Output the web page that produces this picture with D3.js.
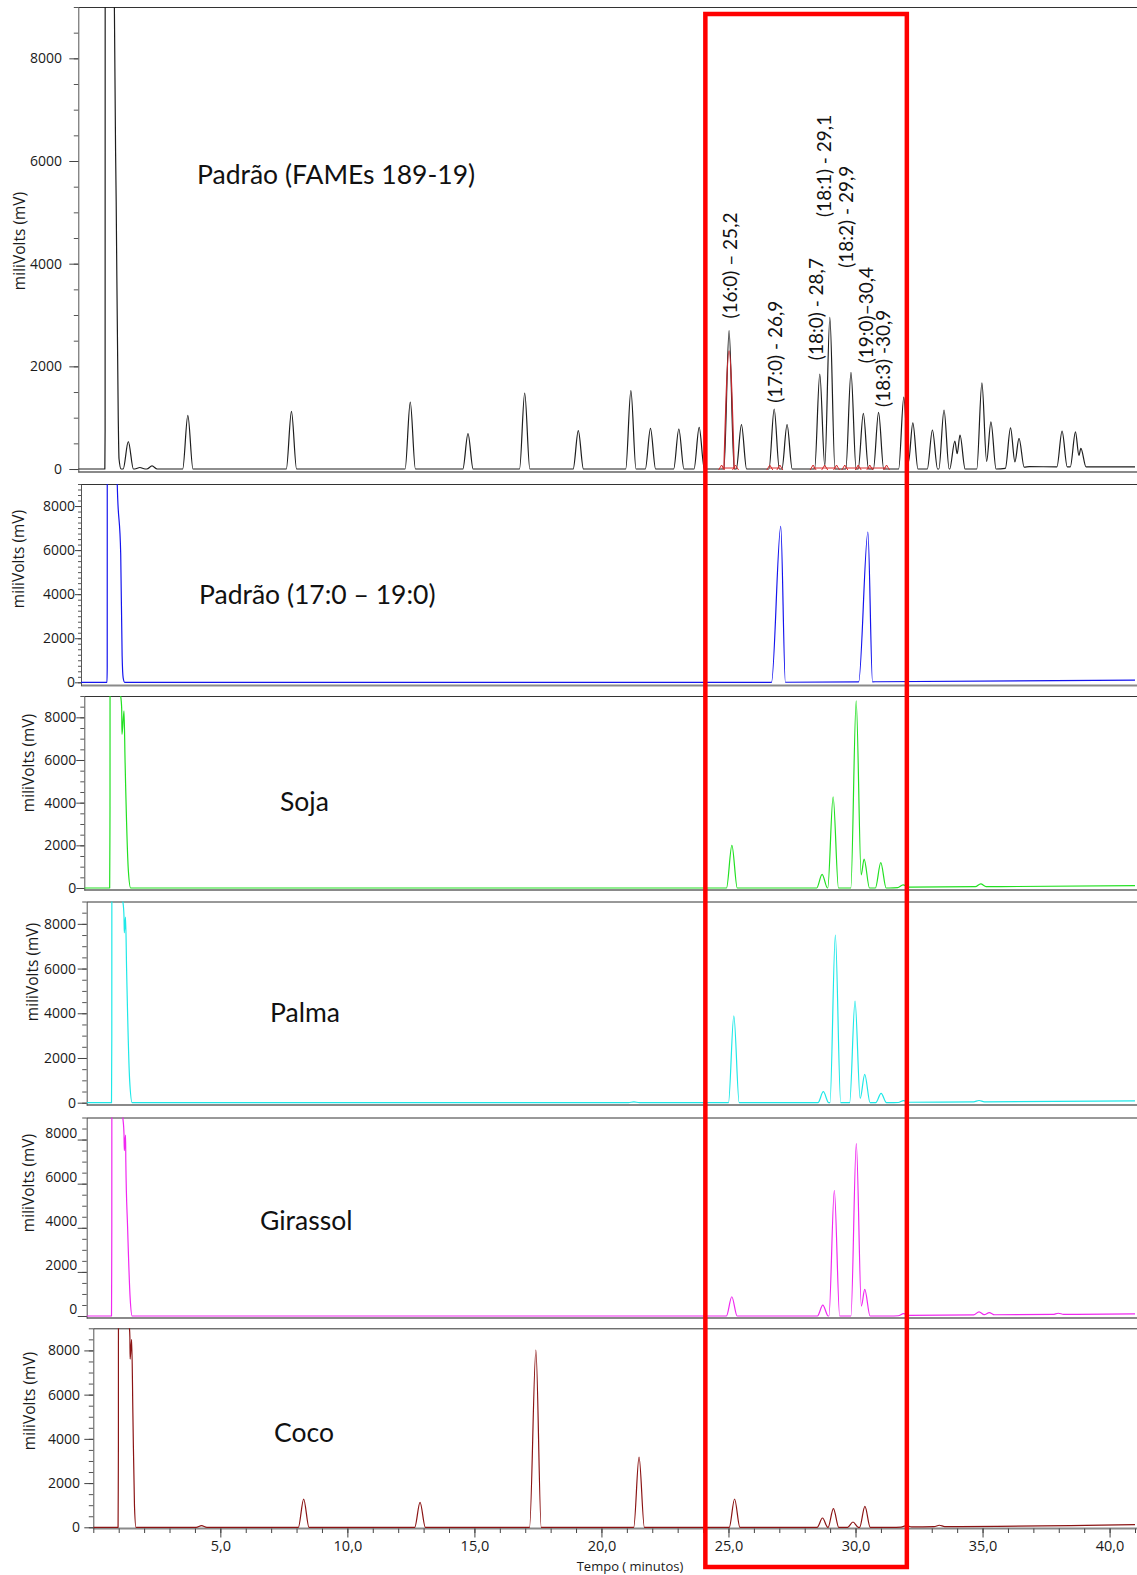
<!DOCTYPE html>
<html>
<head>
<meta charset="utf-8">
<script src="https://cdn.jsdelivr.net/npm/d3@7"></script>
<style>
  body { margin: 0; background: #fff; }
  svg { display: block; }
</style>
</head>
<body>
<svg id="chart" width="1137" height="1575"></svg>
<script>
// ---- values (time in minutes, signal in mV) ----
const timeDomain = [0, 41];
const signalTop = 9000;
const yTickValues = [0, 2000, 4000, 6000, 8000];
const xTickValues = [5, 10, 15, 20, 25, 30, 35, 40];
const xTickLabels = ["5,0", "10,0", "15,0", "20,0", "25,0", "30,0", "35,0", "40,0"];

const panelNames = [
  "Padrão (FAMEs 189-19)",
  "Padrão (17:0 – 19:0)",
  "Soja",
  "Palma",
  "Girassol",
  "Coco",
];

// solvent front, point by point [min, mV] (goes off scale)
const famesSolvent = [[0, 0], [1.03, 0], [1.04, 750], [1.05, 30000], [1.38, 14000], [1.4, 9000], [1.47, 5200], [1.55, 1000], [1.58, 200], [1.66, 0]];
const std1719Solvent = [[0, 0], [1.01, 0], [1.02, 700], [1.025, 30000], [1.39, 14000], [1.41, 9000], [1.545, 5800], [1.6, 1200], [1.64, 200], [1.7, 0]];
const sojaSolvent = [[0, 0], [0.99, 0], [1.0, 2600], [1.003, 3800], [1.01, 30000], [1.37, 14000], [1.39, 9500], [1.459, 8400], [1.47, 7200], [1.55, 8300], [1.59, 6000], [1.72, 800], [1.81, 0]];
const palmaSolvent = [[0, 0], [0.97, 0], [0.978, 2000], [0.982, 3000], [0.99, 30000], [1.37, 14000], [1.39, 9500], [1.46, 8300], [1.47, 7600], [1.52, 8300], [1.56, 6000], [1.68, 1000], [1.78, 0]];
const girassolSolvent = [[0, 0], [0.97, 0], [0.978, 2400], [0.982, 4200], [0.99, 30000], [1.37, 14000], [1.39, 9500], [1.46, 8200], [1.47, 7500], [1.52, 8200], [1.53, 7000], [1.6, 4000], [1.7, 800], [1.78, 0]];
const cocoSolvent = [[0, 0], [0.975, 0], [0.984, 2300], [0.988, 3800], [0.995, 30000], [1.38, 14000], [1.4, 9500], [1.44, 8600], [1.45, 7600], [1.51, 8500], [1.56, 5000], [1.62, 1000], [1.68, 0]];

// peaks [retention time, height, left half width?, right half width?]
const famesPeaks = [
  [1.94, 533], [2.39, 30], [2.86, 60], [4.25, 1045], [8.27, 1123], [12.88, 1305],
  [15.12, 688], [17.32, 1481], [19.4, 747], [21.44, 1526], [22.2, 792], [23.3, 780],
  [24.09, 810], [25.25, 2695], [25.73, 863], [27.0, 1169], [27.5, 863], [28.77, 1851],
  [29.16, 2954], [29.98, 1882], [30.46, 1083], [31.05, 1103], [32.03, 1400], [32.38, 900],
  [33.14, 760], [33.59, 1150], [34.01, 545], [34.21, 660], [35.06, 1680], [35.41, 920],
  [36.17, 780], [36.5, 565], [38.17, 693], [38.69, 682], [38.9, 360],
];
const std1719Peaks = [[27.22, 7073, 0.36, 0.18], [30.61, 6800, 0.36, 0.18]];
const sojaPeaks = [[25.27, 2000], [28.79, 640], [29.22, 4277], [30.12, 8773], [30.43, 1358], [31.08, 1185], [31.95, 120], [34.98, 130]];
const palmaPeaks = [[21.4, 40], [25.31, 3889], [28.81, 492], [29.28, 7497], [30.05, 4546], [30.43, 1270], [31.07, 420], [31.95, 80], [34.9, 60]];
const girassolPeaks = [[25.23, 873], [28.79, 498], [29.24, 5701], [30.1, 7814], [30.43, 1206], [31.95, 90], [34.9, 140], [35.3, 100], [38.0, 50]];
const cocoPeaks = [[4.26, 80], [8.28, 1277], [12.86, 1128], [17.42, 8010, 0.25, 0.21], [21.48, 3172], [25.24, 1280], [28.7, 420], [29.13, 843], [29.9, 240], [30.37, 950], [32.0, 60], [33.3, 60]];

// baseline drift [min, mV]
const famesDrift = [[0, 0], [35.6, 0], [36.9, 45], [41, 40]];
const std1719Drift = [[0, 0], [27, 0], [31, 25], [41, 100]];
const sojaDrift = [[0, 0], [31.4, 0], [32.2, 40], [41, 110]];
const palmaDrift = [[0, 0], [31.4, 0], [32.2, 20], [41, 80]];
const girassolDrift = [[0, 0], [31.4, 0], [32.2, 30], [41, 100]];
const cocoDrift = [[0, 0], [31.4, 0], [32.2, 20], [41, 120]];

// identified peaks in the FAME standard
const peakLabels = ["(16:0) – 25,2", "(17:0) - 26,9", "(18:0) - 28,7", "(18:1) - 29,1", "(18:2) - 29,9", "(19:0)–30,4", "(18:3) -30,9"];
const peakLabelTimes = [25.28, 27.06, 28.65, 28.96, 29.81, 30.58, 31.23];
const peakLabelLevels = [2930, 1290, 2120, 4910, 3920, 2060, 1210];
const famesHighlight = [25.25, 2300];
const integrationMarks = [[24.96, 25.5], [26.83, 27.22], [28.51, 28.96, 29.42], [29.74, 30.26, 30.71, 31.36]];

// window boxed in red on the figure
const highlightWindow = [24.09, 32.02];

// ---- layout / styles ----
const plotRight = 1135;
const W = 1137;
const layout = [
  { left: 78.3, top: 7, bottom: 472, yMin: -58, minor: 500, major: 9, pad: 7.3, color: "#1e1e1e", hw: 0.2, yTitle: [20, 241], name: [197, 175] },
  { left: 81, top: 484, bottom: 685.5, yMin: -145, minor: 250, major: 6, pad: 0, color: "#1414ee", hw: 0.2, yTitle: [18.5, 559], name: [199, 595] },
  { left: 84.3, top: 696, bottom: 890, yMin: -94, minor: 500, major: 8, pad: 0, color: "#22e022", hw: 0.21, yTitle: [29, 763], name: [280, 802] },
  { left: 86.7, top: 901.5, bottom: 1105, yMin: -103, minor: 500, major: 9, pad: 1.7, color: "#1ee8e8", hw: 0.21, yTitle: [32.7, 972], name: [270, 1013] },
  { left: 86.7, top: 1117.5, bottom: 1318, yMin: -90, minor: 500, major: 9, pad: 0.4, color: "#f028f0", hw: 0.21, yTitle: [29, 1183], name: [260, 1221], raised: true },
  { left: 93.3, top: 1328.3, bottom: 1528.5, yMin: -54, minor: 500, major: 9, pad: 4.3, color: "#8b1414", hw: 0.21, yTitle: [30, 1401], name: [274, 1433] },
];

const series = [
  { solvent: famesSolvent, peaks: famesPeaks, drift: famesDrift },
  { solvent: std1719Solvent, peaks: std1719Peaks, drift: std1719Drift },
  { solvent: sojaSolvent, peaks: sojaPeaks, drift: sojaDrift },
  { solvent: palmaSolvent, peaks: palmaPeaks, drift: palmaDrift },
  { solvent: girassolSolvent, peaks: girassolPeaks, drift: girassolDrift },
  { solvent: cocoSolvent, peaks: cocoPeaks, drift: cocoDrift },
];

const svg = d3.select("#chart");

// turn a peak table into the vertices of the trace
function buildTrace(solvent, peaks, drift, hw) {
  const baseAt = d3
    .scaleLinear()
    .domain(drift.map((d) => d[0]))
    .range(drift.map((d) => d[1]))
    .clamp(true);

  const spans = peaks
    .map(([t, h, wl = hw, wr = hw]) => ({ t, h, l: t - wl, r: t + wr }))
    .sort((a, b) => a.t - b.t);

  const pts = solvent.map((d) => [d[0], d[1]]);
  const solventEnd = solvent[solvent.length - 1][0];

  spans.forEach((p, i) => {
    const prev = spans[i - 1];
    const next = spans[i + 1];
    if (!prev || prev.r <= p.l) pts.push([p.l, baseAt(p.l)]);
    pts.push([p.t, p.h + baseAt(p.t)]);
    if (next && next.l < p.r) {
      // overlapping neighbours meet where the flanks cross
      const a = p.h / (p.r - p.t);
      const b = next.h / (next.t - next.l);
      const tv = (a * p.r + b * next.l) / (a + b);
      pts.push([tv, a * (p.r - tv) + baseAt(tv)]);
    } else {
      pts.push([p.r, baseAt(p.r)]);
    }
  });

  drift.forEach(([t, v]) => {
    if (t > solventEnd && !spans.some((p) => t >= p.l && t <= p.r)) pts.push([t, v]);
  });

  pts.sort((a, b) => a[0] - b[0]);
  return pts.filter((d, i) => i === 0 || d[0] > pts[i - 1][0]);
}

const defs = svg.append("defs");
let bottomX = null;

layout.forEach((cfg, i) => {
  const x = d3.scaleLinear().domain(timeDomain).range([cfg.left, plotRight]);
  const y = d3.scaleLinear().domain([cfg.yMin, signalTop]).range([cfg.bottom, cfg.top]);
  const g = svg.append("g").attr("class", `panel-${i}`);

  defs
    .append("clipPath")
    .attr("id", `clip-${i}`)
    .append("rect")
    .attr("x", cfg.left)
    .attr("y", cfg.top)
    .attr("width", W - cfg.left)
    .attr("height", cfg.bottom - cfg.top);

  // frame: top border + bottom line
  g.append("line")
    .attr("x1", cfg.left).attr("x2", W)
    .attr("y1", cfg.top + 0.5).attr("y2", cfg.top + 0.5)
    .attr("stroke", "#333").attr("stroke-width", 1);
  g.append("line")
    .attr("x1", cfg.left).attr("x2", W)
    .attr("y1", cfg.bottom).attr("y2", cfg.bottom)
    .attr("stroke", "#8a8a8a").attr("stroke-width", 2);

  // y axis: minor then major ticks
  g.append("g")
    .attr("transform", `translate(${cfg.left},0)`)
    .call(d3.axisLeft(y).tickValues(d3.range(0, signalTop + 1, cfg.minor)).tickSize(cfg.major / 2).tickFormat("").tickSizeOuter(0))
    .call((a) => a.select(".domain").attr("stroke", "#555"))
    .call((a) => a.selectAll(".tick line").attr("stroke", "#555"));

  const yAx = g.append("g")
    .attr("transform", `translate(${cfg.left},0)`)
    .call(d3.axisLeft(y).tickValues(yTickValues).tickSize(cfg.major).tickPadding(cfg.pad)
      .tickFormat(d3.format("d")).tickSizeOuter(0));
  yAx.select(".domain").remove();
  yAx.selectAll(".tick line").attr("stroke", "#444");
  yAx.selectAll(".tick text")
    .attr("fill", "#1a1a1a")
    .style("font-family", "'Open Sans', sans-serif")
    .style("font-size", "14px")
    .attr("dy", cfg.raised ? "-0.15em" : "0.32em");

  g.append("text")
    .attr("transform", `translate(${cfg.yTitle[0]},${cfg.yTitle[1]}) rotate(-90)`)
    .attr("text-anchor", "middle")
    .attr("dy", "0.35em")
    .attr("fill", "#1a1a1a")
    .style("font-family", "'Open Sans', sans-serif")
    .style("font-size", "15.5px")
    .text("miliVolts (mV)");

  // trace
  const s = series[i];
  const pts = buildTrace(s.solvent, s.peaks, s.drift, cfg.hw);
  const line = d3
    .line()
    .x((d) => x(d[0]))
    .y((d) => y(d[1]))
    .curve(d3.curveMonotoneX);

  const plot = g.append("g").attr("clip-path", `url(#clip-${i})`);
  plot.append("path")
    .datum(pts)
    .attr("d", line)
    .attr("fill", "none")
    .attr("stroke", cfg.color)
    .attr("stroke-width", 1.2)
    .attr("stroke-linejoin", "round");

  g.append("text")
    .attr("x", cfg.name[0])
    .attr("y", cfg.name[1])
    .attr("dy", "0.35em")
    .attr("fill", "#111")
    .style("font-family", "Lato, sans-serif")
    .style("font-size", "26.5px")
    .text(panelNames[i]);

  if (i === 0) {
    // 16:0 peak picked out in red
    const [ht, hh] = famesHighlight;
    plot.append("path")
      .datum([[ht - cfg.hw, 0], [ht, hh], [ht + cfg.hw, 0]])
      .attr("d", line)
      .attr("fill", "none")
      .attr("stroke", "#c0272d")
      .attr("stroke-width", 1.3);

    // integration baselines and marks
    integrationMarks.forEach((grp) => {
      plot.append("path")
        .datum(grp.map((t) => [t, 0]))
        .attr("d", d3.line().x((d) => x(d[0])).y((d) => y(d[1]) - 1))
        .attr("fill", "none")
        .attr("stroke", "#d42a2a")
        .attr("stroke-width", 1);
      grp.forEach((t) => {
        const px = x(t), py = y(0);
        plot.append("path")
          .attr("d", `M${px - 3},${py + 1}L${px},${py - 4}L${px + 3},${py + 1}`)
          .attr("fill", "none")
          .attr("stroke", "#d42a2a")
          .attr("stroke-width", 1);
      });
    });

    peakLabels.forEach((lab, k) => {
      g.append("text")
        .attr("transform", `translate(${x(peakLabelTimes[k])},${y(peakLabelLevels[k])}) rotate(-90)`)
        .attr("dy", "0.35em")
        .attr("fill", "#111")
        .style("font-family", "Lato, sans-serif")
        .style("font-size", "19px")
        .text(lab);
    });
  }

  if (i === layout.length - 1) {
    bottomX = x;
    const xMinor = g.append("g")
      .attr("transform", `translate(0,${cfg.bottom})`)
      .call(d3.axisBottom(x).tickValues(d3.range(0, 42, 1)).tickSize(4.5).tickFormat("").tickSizeOuter(0));
    xMinor.select(".domain").remove();
    xMinor.selectAll(".tick line").attr("stroke", "#444");

    const xAx = g.append("g")
      .attr("transform", `translate(0,${cfg.bottom})`)
      .call(d3.axisBottom(x).tickValues(xTickValues).tickSize(9).tickPadding(3)
        .tickFormat((d, k) => xTickLabels[k]).tickSizeOuter(0));
    xAx.select(".domain").remove();
    xAx.selectAll(".tick line").attr("stroke", "#444");
    xAx.selectAll(".tick text")
      .attr("fill", "#1a1a1a")
      .style("font-family", "'Open Sans', sans-serif")
      .style("font-size", "14.5px");

    g.append("text")
      .attr("x", 630)
      .attr("y", 1566)
      .attr("dy", "0.35em")
      .attr("text-anchor", "middle")
      .attr("fill", "#1a1a1a")
      .style("font-family", "'Open Sans', sans-serif")
      .style("font-size", "13px")
      .text("Tempo ( minutos)");
  }
});

// red box over the 24–32 min window, all panels
svg.append("rect")
  .attr("x", bottomX(highlightWindow[0]))
  .attr("y", 14)
  .attr("width", bottomX(highlightWindow[1]) - bottomX(highlightWindow[0]))
  .attr("height", 1567 - 14)
  .attr("fill", "none")
  .attr("stroke", "#ff0000")
  .attr("stroke-width", 4.5);
</script>
</body>
</html>
